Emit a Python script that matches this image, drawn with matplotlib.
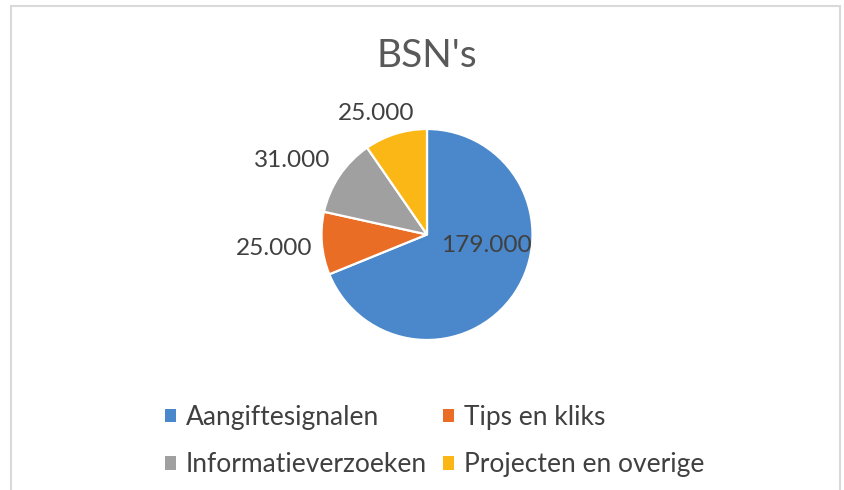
import matplotlib
matplotlib.use("Agg")
import matplotlib.pyplot as plt
from matplotlib.patches import Patch, Rectangle

# ---- data ----
title = "BSN's"
categories = ["Aangiftesignalen", "Tips en kliks", "Informatieverzoeken", "Projecten en overige"]
values = [179000, 25000, 31000, 25000]
colors = ["#4A88CB", "#EA6D26", "#A0A0A0", "#FBB716"]

# ---- style / layout (pixels) ----
W, H = 844, 490
cx, cy, r = 427, 234.5, 105.5
# label baseline offsets (in pie radius units) relative to pie centre
label_pos = [(0.559, -0.163), (-1.450, -0.192), (-1.280, 0.638), (-0.479, 1.083)]
FONT = ["Lato", "DejaVu Sans"]
TXT = "#404040"

plt.rcParams["font.family"] = FONT
fig = plt.figure(figsize=(W / 100, H / 100), dpi=100)
fig.patch.set_facecolor("white")

# border
fig.patches.append(Rectangle((11 / W, -0.05), (840 - 11) / W, 1.05 - 6 / H,
                             transform=fig.transFigure, fill=False,
                             edgecolor="#d9d9d9", lw=1.5))

ax = fig.add_axes([(cx - r) / W, (H - cy - r) / H, 2 * r / W, 2 * r / H])
wedges, _ = ax.pie(values, colors=colors, startangle=90, counterclock=False,
                   radius=1, wedgeprops=dict(edgecolor="white", linewidth=1.6))
ax.set_xlim(-1, 1)
ax.set_ylim(-1, 1)
ax.set_aspect("equal")
ax.axis("off")

for v, (lx, ly) in zip(values, label_pos):
    ax.text(lx, ly, f"{v:,}".replace(",", "."), ha="center", va="baseline",
            fontsize=17.6, color=TXT, clip_on=False)

fig.text(cx / W, 1 - 67 / H, title, ha="center", va="baseline",
         fontsize=28, color="#595959")

# legend: row-major order in two columns
order = [0, 2, 1, 3]
handles = [Patch(facecolor=colors[i], edgecolor="none") for i in order]
labels = [categories[i] for i in order]
leg = fig.legend(handles, labels, ncol=2, loc="upper left",
                 bbox_to_anchor=(165 / W, 1 - 405 / H), frameon=False,
                 fontsize=19, handlelength=0.4, handleheight=0.4,
                 handletextpad=0.4, columnspacing=0.6, labelspacing=0.85,
                 borderpad=0, borderaxespad=0)
for t in leg.get_texts():
    t.set_color(TXT)

fig.savefig("out.png", dpi=100, facecolor="white")
